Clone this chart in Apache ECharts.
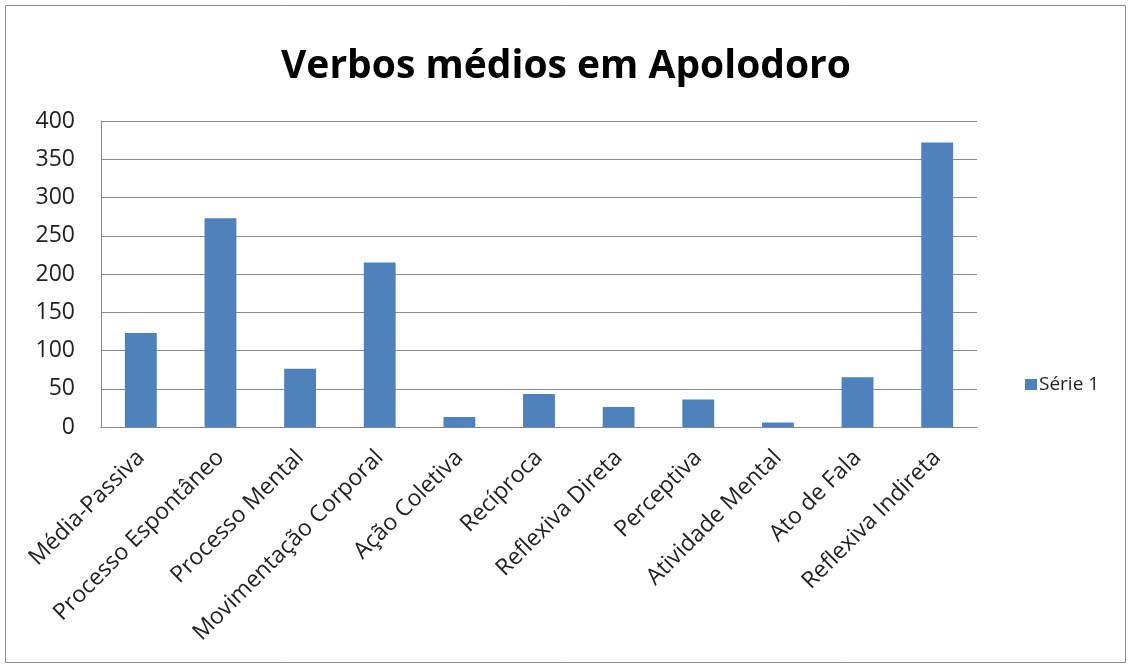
<!DOCTYPE html>
<html><head><meta charset="utf-8">
<script src="https://cdn.jsdelivr.net/npm/echarts@6/dist/echarts.min.js"></script>
<style>html,body{margin:0;padding:0;background:#fff}#c{width:1132px;height:666px}</style>
</head><body><div id="c"></div>
<script>
const categories = ['Média-Passiva','Processo Espontâneo','Processo Mental','Movimentação Corporal','Ação Coletiva','Recíproca','Reflexiva Direta','Perceptiva','Atividade Mental','Ato de Fala','Reflexiva Indireta'];
const serie1 = [123, 273, 76, 215, 13, 43, 26, 36, 6, 65, 372];
const seriesName = 'Série 1';
const titleText = 'Verbos médios em Apolodoro';

const chart = echarts.init(document.getElementById('c'));
chart.setOption({
  backgroundColor: '#fff',
  animation: false,
  title: { text: titleText, left: 'center', top: 42,
    textStyle: { fontFamily: 'Open Sans', fontSize: 39, fontWeight: 'bold', color: '#000' } },
  graphic: [{ type: 'rect', shape: { x: 5.5, y: 5.5, width: 1120, height: 657 },
    style: { fill: 'none', stroke: '#8c8c8c', lineWidth: 1 } }],
  legend: { data: [seriesName], left: 1020, top: 370, orient: 'vertical',
    itemWidth: 12, itemHeight: 11, itemGap: 4, icon: 'rect',
    textStyle: { fontFamily: 'Open Sans', fontSize: 19, color: '#222', padding: [0,0,0,-3] } },
  grid: { left: 101, right: 155, top: 121, bottom: 239, containLabel: false },
  xAxis: { type: 'category', data: categories,
    axisLine: { lineStyle: { color: '#888' } }, axisTick: { show: false },
    axisLabel: { rotate: 45, interval: 0, margin: 27, fontFamily: 'Open Sans', fontSize: 23, color: '#222' } },
  yAxis: { type: 'value', min: 0, max: 400, interval: 50,
    axisLine: { show: true, lineStyle: { color: '#888' } }, axisTick: { show: false },
    splitLine: { lineStyle: { color: '#8a8a8a' } },
    axisLabel: { margin: 26, fontFamily: 'Open Sans', fontSize: 23, color: '#222' } },
  series: [{ name: seriesName, type: 'bar', data: serie1, barWidth: '40%',
    itemStyle: { color: '#4F81BD' } }]
});
</script></body></html>
